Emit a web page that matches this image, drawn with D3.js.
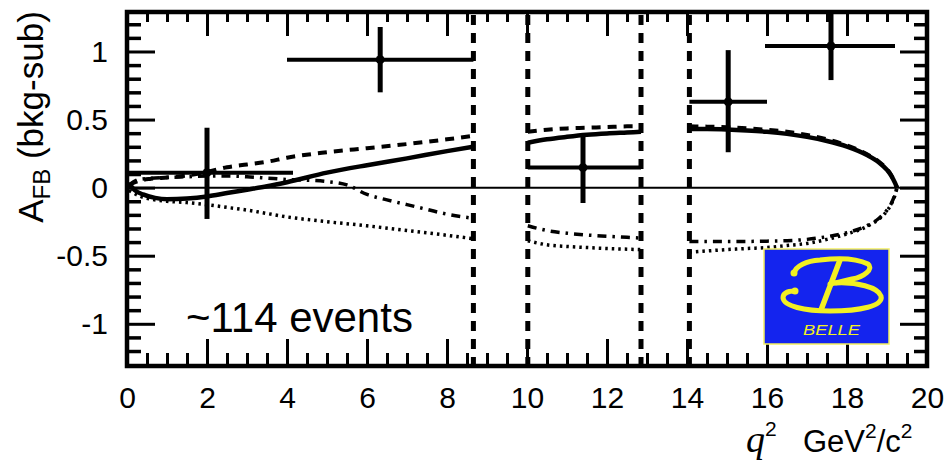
<!DOCTYPE html>
<html>
<head>
<meta charset="utf-8">
<script src="https://cdn.jsdelivr.net/npm/d3@7"></script>
<style>
  body { margin: 0; background: #fff; }
  svg { display: block; }
  text { font-family: "Liberation Sans", Arial, sans-serif; fill: #000; }
</style>
</head>
<body>
<svg id="chart" width="944" height="466"></svg>
<script>
// Measured A_FB in q^2 bins (background subtracted)
const binCentre = [2.0, 6.33, 11.4, 15.03, 17.6];
const binLow    = [0.0, 4.0, 10.02, 14.06, 15.95];
const binHigh   = [4.15, 8.66, 12.85, 16.0, 19.2];
const afbValue  = [0.11, 0.94, 0.147, 0.63, 1.04];
const errUp     = [0.33, 0.24, 0.24, 0.38, 0.24];
const errDown   = [0.34, 0.24, 0.26, 0.37, 0.25];

// Charmonium veto boundaries (q^2, GeV^2/c^2)
const vetoEdges = [8.66, 10.02, 12.85, 14.06];

// Model predictions, one list of [q^2, A_FB] per allowed q^2 window
const afbSM = [
  [[0.05,0.03],[0.2,-0.02],[0.4,-0.05],[0.7,-0.075],[1.0,-0.085],[1.5,-0.08],[2.0,-0.065],[2.5,-0.04],
   [3.0,-0.015],[3.5,0.01],[4.0,0.04],[5.0,0.11],[6.0,0.165],[7.0,0.215],[8.0,0.268],[8.66,0.30]],
  [[10.02,0.33],[10.5,0.355],[11.0,0.373],[11.5,0.388],[12.0,0.398],[12.5,0.405],[12.85,0.41]],
  [[14.06,0.43],[14.5,0.43],[15.0,0.427],[15.5,0.42],[16.0,0.41],[16.5,0.395],[17.0,0.373],[17.5,0.343],
   [18.0,0.302],[18.5,0.24],[18.8,0.185],[19.0,0.13],[19.1,0.09],[19.2,0.035],[19.25,0.0]]
];
const afbFlipC7 = [
  [[0.05,0.02],[0.3,0.05],[0.6,0.065],[1.0,0.075],[1.5,0.09],[2.0,0.115],[2.5,0.15],[3.0,0.17],
   [3.5,0.19],[4.0,0.22],[5.0,0.26],[6.0,0.29],[7.0,0.32],[8.0,0.355],[8.66,0.38]],
  [[10.02,0.41],[10.5,0.425],[11.0,0.435],[11.5,0.44],[12.0,0.445],[12.5,0.45],[12.85,0.45]],
  [[14.06,0.45],[14.5,0.448],[15.0,0.443],[15.5,0.436],[16.0,0.425],[16.5,0.41],[17.0,0.387],[17.5,0.355],
   [18.0,0.31],[18.5,0.245],[18.8,0.19],[19.0,0.135],[19.1,0.095],[19.2,0.035],[19.25,0.0]]
];
const afbFlipC9C10 = [
  [[0.05,0.02],[0.3,0.06],[0.7,0.07],[1.0,0.075],[1.5,0.08],[2.0,0.085],[2.5,0.085],[3.0,0.08],
   [3.5,0.07],[4.0,0.06],[4.5,0.055],[5.0,0.045],[5.5,0.02],[6.0,-0.05],[6.5,-0.09],[7.0,-0.125],
   [7.5,-0.16],[8.0,-0.195],[8.66,-0.225]],
  [[10.02,-0.28],[10.5,-0.315],[11.0,-0.335],[11.5,-0.348],[12.0,-0.357],[12.5,-0.365],[12.85,-0.37]],
  [[14.06,-0.395],[14.5,-0.395],[15.0,-0.395],[15.5,-0.395],[16.0,-0.393],[16.5,-0.39],[17.0,-0.38],[17.5,-0.36],
   [18.0,-0.33],[18.5,-0.28],[18.8,-0.225],[19.0,-0.165],[19.1,-0.12],[19.2,-0.05],[19.25,0.0]]
];
const afbFlipAll = [
  [[0.05,-0.02],[0.3,-0.06],[0.6,-0.085],[1.0,-0.1],[1.5,-0.11],[2.0,-0.125],[2.5,-0.145],[3.0,-0.165],
   [3.5,-0.19],[4.0,-0.215],[5.0,-0.25],[6.0,-0.28],[7.0,-0.315],[8.0,-0.35],[8.66,-0.375]],
  [[10.02,-0.39],[10.5,-0.42],[11.0,-0.432],[11.5,-0.44],[12.0,-0.447],[12.5,-0.452],[12.85,-0.455]],
  [[14.06,-0.475],[14.5,-0.465],[15.0,-0.455],[15.5,-0.447],[16.0,-0.44],[16.5,-0.425],[17.0,-0.41],[17.5,-0.38],
   [18.0,-0.34],[18.5,-0.285],[18.8,-0.23],[19.0,-0.17],[19.1,-0.125],[19.2,-0.055],[19.25,0.0]]
];

// Tick values and labels
const xMajorTicks = [0, 2, 4, 6, 8, 10, 12, 14, 16, 18, 20];
const xMinorTicks = d3.range(0.5, 20, 0.5).filter(v => v % 2 !== 0);
const yMajorTicks = [-1, -0.5, 0, 0.5, 1];
const yMinorTicks = d3.range(-12, 13).map(v => v / 10).filter(v => Math.abs(v * 2 - Math.round(v * 2)) > 1e-6);
const yTickLabels = ["-1", "-0.5", "0", "0.5", "1"];

const svg = d3.select("#chart");
const L = 127, R = 927, T = 12, B = 366;
const x = d3.scaleLinear().domain([0, 20]).range([L, R]);
const y = d3.scaleLinear().domain([-1.31, 1.29]).range([B, T]);

// Inward ticks on all four sides
function tickAxis(axisFn, scale, values, size, pos, labels, pad) {
  const ax = axisFn(scale).tickValues(values).tickSizeInner(-size).tickSizeOuter(0).tickPadding(pad || 0);
  ax.tickFormat(labels ? ((d, i) => labels[i]) : () => "");
  const g = svg.append("g").attr("transform", pos).call(ax);
  g.select(".domain").remove();
  g.selectAll(".tick line").attr("stroke", "#000").attr("stroke-width", 3);
  return g;
}
tickAxis(d3.axisBottom, x, xMinorTicks, 13, `translate(0,${B})`);
tickAxis(d3.axisTop, x, xMinorTicks, 10, `translate(0,${T})`);
tickAxis(d3.axisTop, x, xMajorTicks, 24, `translate(0,${T})`);
tickAxis(d3.axisLeft, y, yMinorTicks, 14, `translate(${L},0)`).selectAll(".tick line").attr("stroke-width", 3.5);
tickAxis(d3.axisRight, y, yMinorTicks, 13, `translate(${R},0)`).selectAll(".tick line").attr("stroke-width", 3.5);
tickAxis(d3.axisRight, y, yMajorTicks, 27, `translate(${R},0)`);

const gx = tickAxis(d3.axisBottom, x, xMajorTicks, 27, `translate(0,${B})`, xMajorTicks.map(String), 21);
gx.selectAll(".tick text").attr("font-size", 30).attr("font-family", "Liberation Sans, Arial, sans-serif").attr("fill", "#000");
const gy = tickAxis(d3.axisLeft, y, yMajorTicks, 28, `translate(${L},0)`, yTickLabels, 19);
gy.selectAll(".tick text").attr("font-size", 30).attr("font-family", "Liberation Sans, Arial, sans-serif").attr("fill", "#000");

// Zero line
svg.append("line").attr("x1", x(0)).attr("x2", x(20)).attr("y1", y(0)).attr("y2", y(0))
  .attr("stroke", "#000").attr("stroke-width", 2);

// Veto boundaries
svg.append("g").selectAll("line").data(vetoEdges).join("line")
  .attr("x1", d => x(d)).attr("x2", d => x(d)).attr("y1", T + 3).attr("y2", B)
  .attr("stroke", "#000").attr("stroke-width", 5).attr("stroke-dasharray", "10,8");

// Model curves
const line = d3.line().x(d => x(d[0])).y(d => y(d[1])).curve(d3.curveMonotoneX);
const curveStyles = [
  { data: afbFlipAll,   width: 3.5, dash: "2.5,4" },
  { data: afbFlipC9C10, width: 3.5, dash: "9,6,2.5,6" },
  { data: afbFlipC7,    width: 4,   dash: "9,7" },
  { data: afbSM,        width: 4.5, dash: null }
];
curveStyles.forEach(c => {
  svg.append("g").selectAll("path").data(c.data).join("path")
    .attr("d", line).attr("fill", "none").attr("stroke", "#000")
    .attr("stroke-width", c.width).attr("stroke-dasharray", c.dash);
});

// Data points with bin widths and errors
const pts = svg.append("g").selectAll("g").data(binCentre.map((c, i) => i)).join("g");
pts.append("line").attr("x1", i => x(binLow[i])).attr("x2", i => x(binHigh[i]))
  .attr("y1", i => y(afbValue[i])).attr("y2", i => y(afbValue[i]))
  .attr("stroke", "#000").attr("stroke-width", 4);
pts.append("line").attr("x1", i => x(binCentre[i])).attr("x2", i => x(binCentre[i]))
  .attr("y1", i => y(afbValue[i] + errUp[i])).attr("y2", i => y(afbValue[i] - errDown[i]))
  .attr("stroke", "#000").attr("stroke-width", 5);
pts.append("circle").attr("cx", i => x(binCentre[i])).attr("cy", i => y(afbValue[i])).attr("r", 4.5).attr("fill", "#000");

// Frame
svg.append("rect").attr("x", L).attr("y", T).attr("width", R - L).attr("height", B - T)
  .attr("fill", "none").attr("stroke", "#000").attr("stroke-width", 4.5);

// Event count
svg.append("text").attr("x", 186).attr("y", 332).attr("font-size", 42).text("~114 events");

// Axis titles
const yt = svg.append("text").attr("transform", "translate(43,117) rotate(-90)")
  .attr("text-anchor", "middle").attr("font-size", 35);
yt.append("tspan").text("A");
yt.append("tspan").attr("font-size", 24).attr("dy", 7).text("FB");
yt.append("tspan").attr("dy", -7).text(" (bkg-sub)");

const xt = svg.append("text").attr("y", 452).attr("font-size", 31);
xt.append("tspan").attr("x", 746).attr("font-family", "Liberation Serif, Times New Roman, serif")
  .attr("font-style", "italic").attr("font-size", 38).text("q");
xt.append("tspan").attr("font-size", 21).attr("dy", -16).text("2");
xt.append("tspan").attr("x", 803).attr("dy", 16).text("GeV");
xt.append("tspan").attr("font-size", 21).attr("dy", -14).text("2");
xt.append("tspan").attr("dy", 14).text("/c");
xt.append("tspan").attr("font-size", 21).attr("dy", -14).text("2");

// Collaboration logo
const logo = svg.append("g").attr("transform", "translate(764,249)");
logo.append("rect").attr("width", 125).attr("height", 95).attr("fill", "#1424ee")
  .attr("stroke", "#f4f060").attr("stroke-width", 1.5);
const yellow = "#f2f022";
logo.append("path").attr("fill", "none").attr("stroke", yellow).attr("stroke-width", 5).attr("stroke-linecap", "round")
  .attr("d", "M30,24 C32,17 42,12 56,11 C72,9 92,9 104,15 C110,20 100,28 88,30 C80,32 72,34 66,35");
logo.append("path").attr("fill", "none").attr("stroke", yellow).attr("stroke-width", 5.5).attr("stroke-linecap", "round")
  .attr("d", "M76,11 L57,61");
logo.append("path").attr("fill", "none").attr("stroke", yellow).attr("stroke-width", 5).attr("stroke-linecap", "round")
  .attr("d", "M72,34 C92,33 114,38 117,47 C120,57 96,62 66,62 C40,62 20,57 19,49 C19,44 24,42 31,42");
logo.append("circle").attr("cx", 30).attr("cy", 24).attr("r", 3.5).attr("fill", yellow);
logo.append("circle").attr("cx", 31).attr("cy", 42).attr("r", 3.5).attr("fill", yellow);
logo.append("text").attr("x", 39).attr("y", 86).attr("font-size", 14).attr("font-style", "italic")
  .attr("textLength", 57).attr("lengthAdjust", "spacingAndGlyphs").style("fill", yellow).text("BELLE");
</script>
</body>
</html>
